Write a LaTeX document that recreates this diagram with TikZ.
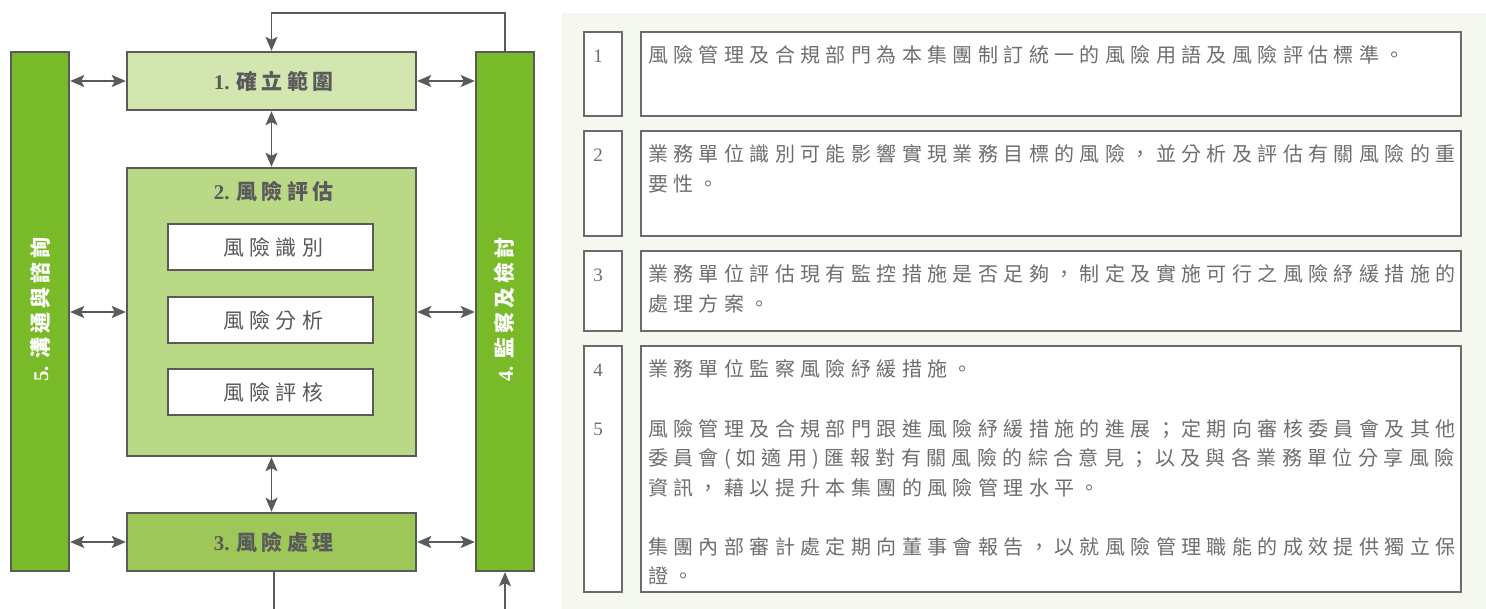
\documentclass[tikz,border=0pt]{standalone}
\usepackage{fontspec}
\setmainfont{Liberation Serif}
\newfontfamily\cjk[LetterSpace=27]{Noto Sans CJK TC}
\newfontfamily\cjkin[LetterSpace=26]{Noto Sans CJK TC}
\newfontfamily\cjkhead[LetterSpace=20]{Noto Sans CJK TC}
\usetikzlibrary{arrows.meta}
\definecolor{edge}{HTML}{5A5A5A}
\definecolor{labgray}{HTML}{5A5A5A}
\definecolor{txtgray}{HTML}{6E6E6E}
\definecolor{pedge}{HTML}{6B6B6B}
\definecolor{cone}{HTML}{D3E6B0}
\definecolor{ctwo}{HTML}{BAD987}
\definecolor{cthree}{HTML}{9DC859}
\definecolor{cbar}{HTML}{79BA29}
\definecolor{panelbg}{HTML}{F5F8EF}
\newcommand\hd[2]{{\bfseries #1}\hspace{7pt}{\cjkhead\bfseries #2\kern-0.20em}}
\newcommand\inn[1]{{\cjkin #1\kern-0.26em}}
\begin{document}
\begin{tikzpicture}[x=1pt,y=-1pt,
  box/.style={draw=edge,line width=2.4pt,inner sep=0pt,minimum width=289pt,
    text=labgray,font=\fontsize{21}{24}\selectfont},
  hdtext/.style={inner sep=0pt,text=labgray,font=\fontsize{21}{24}\selectfont},
  inbox/.style={draw=edge,line width=2.2pt,fill=white,inner sep=0pt,
    minimum width=205pt,minimum height=46pt,text=labgray,font=\fontsize{21}{24}\selectfont},
  bar/.style={draw=edge,line width=2.4pt,fill=cbar,inner sep=0pt,
    minimum width=58pt,minimum height=519pt},
  bartext/.style={rotate=90,inner sep=0pt,text=white,font=\fontsize{21}{24}\selectfont},
  dbl/.style={draw=edge,line width=1.6pt,{Stealth[length=14pt,width=12pt,inset=3pt]}-{Stealth[length=14pt,width=12pt,inset=3pt]}},
  fb/.style={draw=edge,line width=1.4pt},
  fbarrow/.style={draw=edge,line width=1.4pt,-{Stealth[length=14pt,width=12pt,inset=3pt]}},
  pbox/.style={draw=pedge,line width=1.3pt,fill=white},
  ln/.style={anchor=base west,inner sep=0pt,text=txtgray,font=\fontsize{20}{24}\selectfont\cjk},
  num/.style={anchor=base,inner sep=0pt,text=txtgray,font=\fontsize{19}{20}\selectfont}
]
\useasboundingbox (0,0) rectangle (1486,609);
% right panel background
\fill[panelbg] (562,13) rectangle (1486,609);

% ---------- left diagram ----------
\node[box,fill=cone,minimum height=58pt] (b1) at (271.5,81) {\hd{1.}{確立範圍}};
\node[box,fill=ctwo,minimum height=288pt] (b2) at (271.5,312) {};
\node[hdtext] (b2t) at (271.5,191) {\hd{2.}{風險評估}};
\node[inbox] (i1) at (270.5,247) {\inn{風險識別}};
\node[inbox] (i2) at (270.5,320) {\inn{風險分析}};
\node[inbox] (i3) at (270.5,392) {\inn{風險評核}};
\node[box,fill=cthree,minimum height=58pt] (b3) at (271.5,542) {\hd{3.}{風險處理}};
\node[bar] (lb) at (40,311.5) {};
\node[bar] (rb) at (505,311.5) {};
\node[bartext] (lbt) at (lb.center) {\hd{5.}{溝通與諮詢}};
\node[bartext] (rbt) at (rb.center) {\hd{4.}{監察及檢討}};

\draw[dbl] (lb.east |- b1.west) -- (b1.west);
\draw[dbl] (b1.east) -- (rb.west |- b1.east);
\draw[dbl] (lb.east |- b2.west) -- (b2.west);
\draw[dbl] (b2.east) -- (rb.west |- b2.east);
\draw[dbl] (lb.east |- b3.west) -- (b3.west);
\draw[dbl] (b3.east) -- (rb.west |- b3.east);
\draw[dbl] (b1.south) -- (b2.north);
\draw[dbl] (b2.south) -- (b3.north);

\coordinate (ftop) at (505,13);
\draw[fbarrow] (rb.north) -- (ftop) -| (b1.north);
\coordinate (fbl) at (274,609);
\draw[fb] (b3.south -| fbl) -- (fbl);
\coordinate (fbr) at (505,609);
\draw[fbarrow] (fbr) -- (rb.south);

% ---------- right panel ----------
\draw[pbox] (584,32) rectangle (622,116);
\draw[pbox] (641,32) rectangle (1461,116);
\draw[pbox] (584,131) rectangle (622,236);
\draw[pbox] (641,131) rectangle (1461,236);
\draw[pbox] (584,251) rectangle (622,331);
\draw[pbox] (641,251) rectangle (1461,331);
\draw[pbox] (584,346) rectangle (622,592);
\draw[pbox] (641,346) rectangle (1461,592);

\node[num] (n1) at (598,62.5) {1};
\node[num] (n2) at (598,161.5) {2};
\node[num] (n3) at (598,281.5) {3};
\node[num] (n4) at (598,376.5) {4};
\node[num] (n5) at (598,435.5) {5};

\node[ln] (t1a) at (648,63) {風險管理及合規部門為本集團制訂統一的風險用語及風險評估標準。};
\node[ln] (t2a) at (648,162) {業務單位識別可能影響實現業務目標的風險，並分析及評估有關風險的重};
\node[ln] (t2b) at (648,191.5) {要性。};
\node[ln] (t3a) at (648,282) {業務單位評估現有監控措施是否足夠，制定及實施可行之風險紓緩措施的};
\node[ln] (t3b) at (648,311.5) {處理方案。};
\node[ln] (t4a) at (648,377) {業務單位監察風險紓緩措施。};
\node[ln] (t5a) at (648,436) {風險管理及合規部門跟進風險紓緩措施的進展；定期向審核委員會及其他};
\node[ln] (t5b) at (648,465.5) {委員會(如適用)匯報對有關風險的綜合意見；以及與各業務單位分享風險};
\node[ln] (t5c) at (648,495) {資訊，藉以提升本集團的風險管理水平。};
\node[ln] (t5d) at (648,554) {集團內部審計處定期向董事會報告，以就風險管理職能的成效提供獨立保};
\node[ln] (t5e) at (648,583.5) {證。};
\end{tikzpicture}
\end{document}
